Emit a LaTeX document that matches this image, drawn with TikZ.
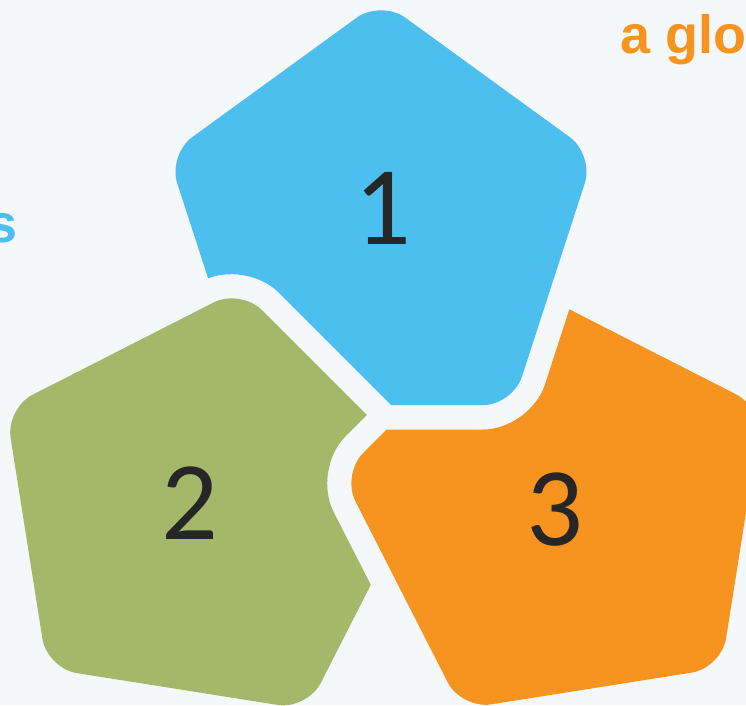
\documentclass[tikz,border=0pt]{standalone}
\usepackage{fontspec}
\newfontfamily\numfont{Carlito}
\newfontfamily\headfont{Liberation Sans}
\definecolor{bgc}{HTML}{F4F8FA}
\definecolor{pblue}{HTML}{4DBFEE}
\definecolor{pgreen}{HTML}{A4B86A}
\definecolor{porange}{HTML}{F7941F}
\definecolor{numc}{HTML}{262626}
\tikzset{
  numlabel/.style={font=\numfont\fontsize{112}{120}\selectfont, text=numc, inner sep=0pt},
  headlabel/.style={font=\headfont\bfseries\fontsize{54}{60}\selectfont, inner sep=0pt},
  pentfill/.style={rounded corners=30pt},
  pentcut/.style={rounded corners=47pt}
}
\begin{document}
\begin{tikzpicture}[x=1pt,y=-1pt]
\useasboundingbox (0,0) rectangle (746,705);
\fill[bgc] (0,0) rectangle (746,705);
\clip (0,0) rectangle (746,705);
% pentagon vertices (R = 224) and offset vertices (R = 254)
\foreach \k in {0,...,4} {
  \coordinate (B\k) at ([shift={(381,224)}]{-90+72*\k}:224);
  \coordinate (G\k) at ([shift={(205.5,510)}]{-81+72*\k}:224);
  \coordinate (O\k) at ([shift={(563,509.5)}]{-99+72*\k}:224);
  \coordinate (BX\k) at ([shift={(381,224)}]{-90+72*\k}:254);
  \coordinate (GX\k) at ([shift={(205.5,510)}]{-81+72*\k}:254);
  \coordinate (OX\k) at ([shift={(563,509.5)}]{-99+72*\k}:254);
}
% blue, cut by green (outer frame and pentagon run in opposite senses)
\begin{scope}
  \clip[pentcut] (-40,-40) -- (-40,745) -- (786,745) -- (786,-40) -- cycle
    (GX0) -- (GX1) -- (GX2) -- (GX3) -- (GX4) -- cycle;
  \fill[pblue, pentfill] (B0) -- (B1) -- (B2) -- (B3) -- (B4) -- cycle;
\end{scope}
% green, cut by orange
\begin{scope}
  \clip[pentcut] (-40,-40) -- (-40,745) -- (786,745) -- (786,-40) -- cycle
    (OX0) -- (OX1) -- (OX2) -- (OX3) -- (OX4) -- cycle;
  \fill[pgreen, pentfill] (G0) -- (G1) -- (G2) -- (G3) -- (G4) -- cycle;
\end{scope}
% orange, cut by blue
\begin{scope}
  \clip[pentcut] (-40,-40) -- (-40,745) -- (786,745) -- (786,-40) -- cycle
    (BX0) -- (BX1) -- (BX2) -- (BX3) -- (BX4) -- cycle;
  \fill[porange, pentfill] (O0) -- (O1) -- (O2) -- (O3) -- (O4) -- cycle;
\end{scope}
\node[numlabel] (n1) at (383,208) {1};
\node[numlabel] (n2) at (190,503) {2};
\node[numlabel] (n3) at (555,510) {3};
\node[headlabel, text=porange, anchor=base west] (tr) at (620,53) {a glo};
\node[headlabel, text=pblue, anchor=base east] (tl) at (18,242) {s};
\end{tikzpicture}
\end{document}
